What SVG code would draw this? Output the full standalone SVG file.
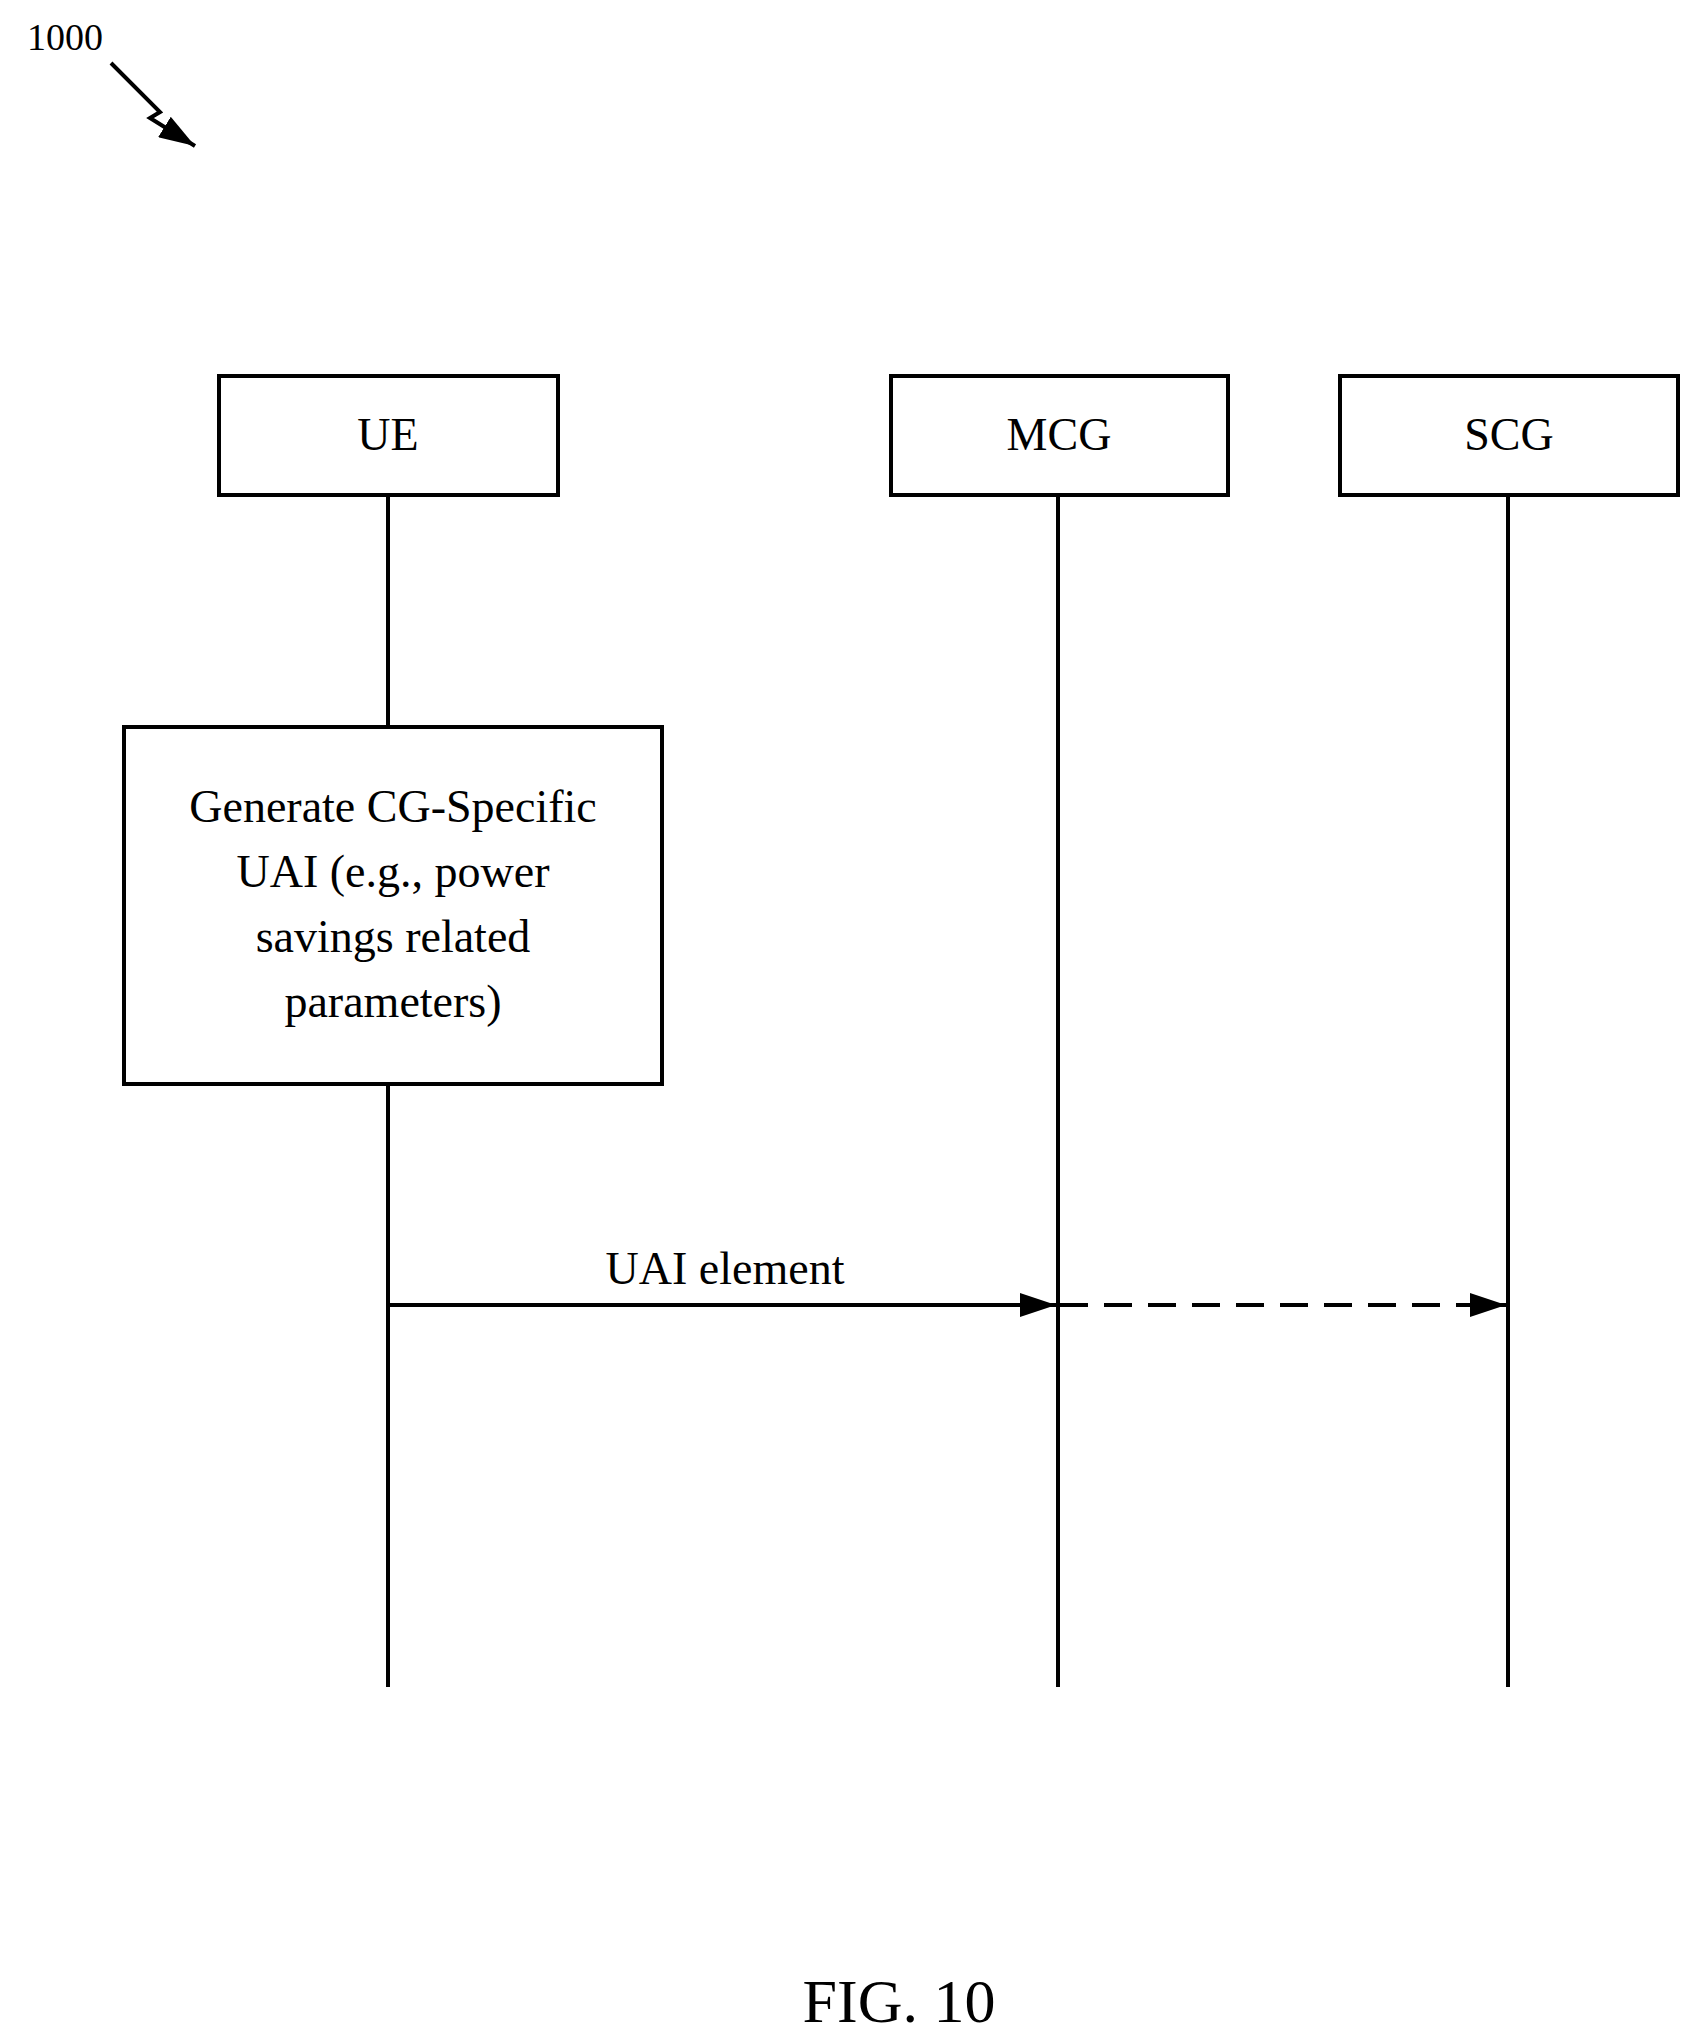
<svg xmlns="http://www.w3.org/2000/svg" width="1698" height="2043" viewBox="0 0 1698 2043">
<style>
text{font-family:"Liberation Serif",serif;fill:#000;text-anchor:middle}
.box{fill:#fff;stroke:#000;stroke-width:4}
.ln{stroke:#000;stroke-width:4;fill:none}
</style>
<defs>
<marker id="ah" viewBox="0 0 10 10" refX="10" refY="5" markerWidth="10" markerHeight="10" markerUnits="userSpaceOnUse" orient="auto"><path d="M0,0 L10,5 L0,10 z"/></marker>
<marker id="ah2" viewBox="0 0 10 10" refX="10" refY="5" markerWidth="36" markerHeight="24" markerUnits="userSpaceOnUse" orient="auto" preserveAspectRatio="none"><path d="M0,0 L10,5 L0,10 z"/></marker>
</defs>
<rect width="1698" height="2043" fill="#fff"/>
<text x="65" y="50" font-size="38">1000</text>
<g id="connectors">
<line class="ln" x1="388" y1="495" x2="388" y2="727"/>
<line class="ln" x1="388" y1="1084" x2="388" y2="1687"/>
<line class="ln" x1="1058" y1="495" x2="1058" y2="1687"/>
<line class="ln" x1="1508" y1="495" x2="1508" y2="1687"/>
<polyline class="ln" points="111,63 160,112 150,118 195,146" stroke-width="4" marker-end="url(#ah2)"/>
<line class="ln" x1="388" y1="1305" x2="1056" y2="1305" marker-end="url(#ah2)"/>
<line class="ln" x1="1060" y1="1305" x2="1506" y2="1305" stroke-dasharray="28,16" marker-end="url(#ah2)"/>
<text x="725" y="1284" font-size="46">UAI element</text>
</g>
<g id="ue"><rect class="box" x="219" y="376" width="339" height="119"/><text x="388" y="450" font-size="46">UE</text></g>
<g id="mcg"><rect class="box" x="891" y="376" width="337" height="119"/><text x="1059" y="450" font-size="46">MCG</text></g>
<g id="scg"><rect class="box" x="1340" y="376" width="338" height="119"/><text x="1509" y="450" font-size="46">SCG</text></g>
<g id="generate"><rect class="box" x="124" y="727" width="538" height="357"/>
<text x="393" y="822" font-size="46">Generate CG-Specific</text>
<text x="393" y="887" font-size="46">UAI (e.g., power</text>
<text x="393" y="952" font-size="46">savings related</text>
<text x="393" y="1017" font-size="46">parameters)</text></g>
<text x="899" y="2022" font-size="62">FIG. 10</text>
</svg>
